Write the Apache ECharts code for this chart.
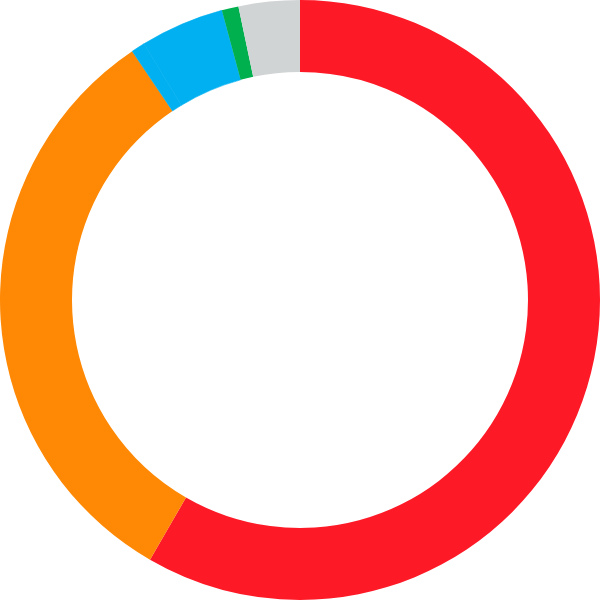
<!DOCTYPE html>
<html>
<head>
<meta charset="utf-8">
<script src="https://cdn.jsdelivr.net/npm/echarts@6/dist/echarts.min.js"></script>
<style>
  html, body { margin: 0; padding: 0; background: #fff; }
  #chart { width: 600px; height: 600px; }
</style>
</head>
<body>
<div id="chart"></div>
<script>
const sliceNames = ["A", "B", "C", "D", "E", "F"];
const sliceValues = [210, 116, 2.65, 16.25, 3.25, 11.85];
const sliceColors = ["#fe1926", "#ff8804", "#00b0f0", "#00b0f0", "#00b04f", "#d1d4d5"];

const chart = echarts.init(document.getElementById("chart"));

chart.setOption({
  animation: false,
  series: [
    {
      type: "pie",
      center: ["50%", "50%"],
      radius: ["76%", "100%"],
      startAngle: 90,
      clockwise: true,
      avoidLabelOverlap: false,
      label: { show: false },
      labelLine: { show: false },
      emphasis: { disabled: true },
      itemStyle: { borderWidth: 0 },
      data: sliceValues.map((value, index) => ({
        name: sliceNames[index],
        value,
        itemStyle: {
          color: sliceColors[index],
          // same-colour blue slices: hide the anti-aliased seam between them
          borderColor: sliceColors[index],
          borderWidth: index === 2 || index === 3 ? 0.6 : 0,
        },
      })),
    },
  ],
});
</script>
</body>
</html>
